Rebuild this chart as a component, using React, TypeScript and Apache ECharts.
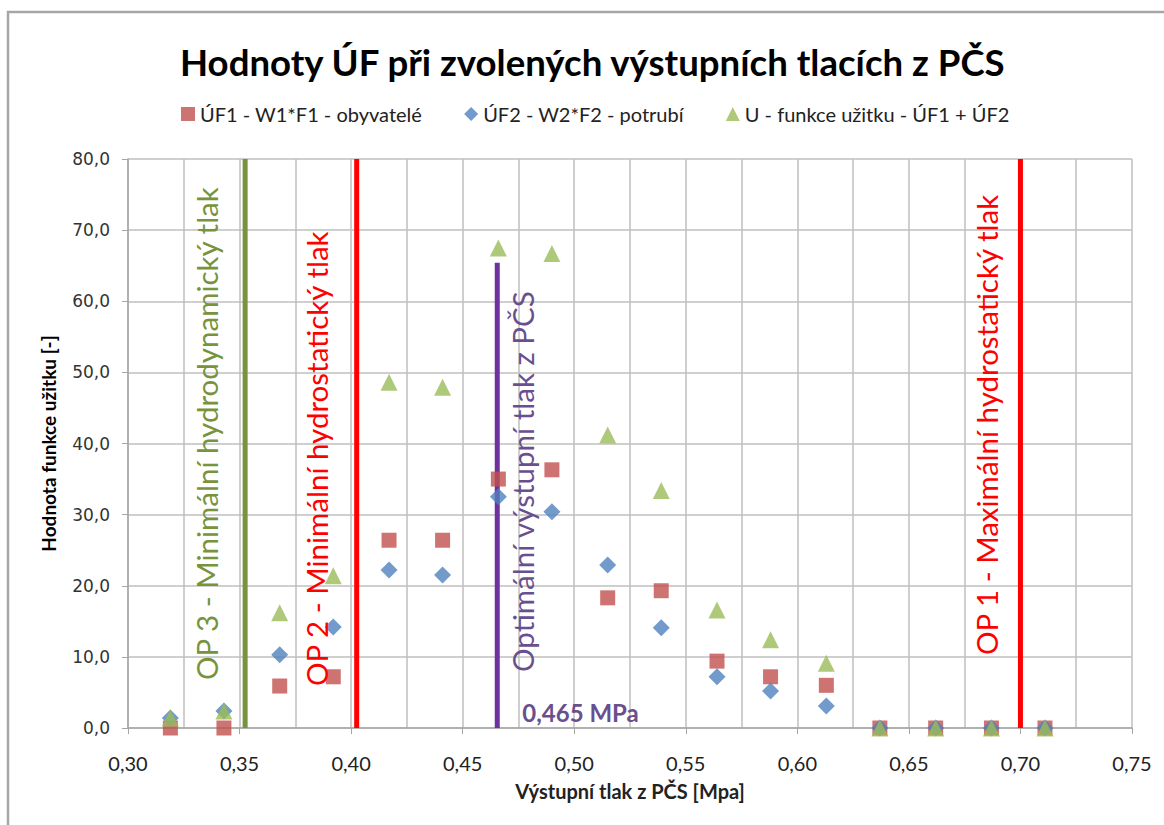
import React, { useEffect, useRef } from "react";
import * as echarts from "echarts";

// ---- data ----
const pressures = [0.319, 0.343, 0.368, 0.392, 0.417, 0.441, 0.466, 0.490, 0.515, 0.539, 0.564, 0.588, 0.613, 0.637, 0.662, 0.687, 0.711];
const uf1 = [0.0, 0.0, 5.9, 7.2, 26.4, 26.4, 35.0, 36.3, 18.3, 19.3, 9.4, 7.2, 6.0, 0.0, 0.0, 0.0, 0.0];
const uf2 = [1.4, 2.4, 10.3, 14.2, 22.2, 21.5, 32.5, 30.4, 22.9, 14.1, 7.2, 5.2, 3.1, 0.0, 0.0, 0.0, 0.0];
const uSum = [1.4, 2.4, 16.2, 21.4, 48.6, 47.9, 67.5, 66.7, 41.2, 33.4, 16.6, 12.4, 9.1, 0.0, 0.0, 0.0, 0.0];

const seriesNames = [
  "ÚF1 - W1*F1 - obyvatelé",
  "ÚF2 - W2*F2 - potrubí",
  "U - funkce užitku - ÚF1 + ÚF2",
];

const refLineX = [0.3525, 0.4025, 0.4655, 0.70];
const refLineTop = [80, 80, 65.4, 80];
const refLineLabels = [
  "OP 3 - Minimální hydrodynamický tlak",
  "OP 2 - Minimální hydrostatický tlak",
  "Optimální výstupní tlak z PČS",
  "OP 1 - Maximální hydrostatický tlak",
];
const optimumLabel = "0,465 MPa";

const titleText = "Hodnoty ÚF při zvolených výstupních tlacích z PČS";
const xAxisName = "Výstupní tlak z PČS [Mpa]";
const yAxisName = "Hodnota funkce užitku [-]";

// ---- styles ----
const seriesColors = ["#C0504D", "#4F81BD", "#9BBB59"];
const seriesSymbols = ["rect", "diamond", "triangle"];
const seriesSizes: any[] = [15, [17, 17], 17];
const refLineColors = ["#77933C", "#FF0000", "#7030A0", "#FF0000"];
const refTextColors = ["#77933C", "#FF0000", "#6A4F8E", "#FF0000"];
const refTextDx = [-39, -40, 25, -34];
const refTextDy = [-48, -42, -56, -73];
const FONT = "Lato, 'Open Sans', sans-serif";

export default function App() {
  const ref = useRef<HTMLDivElement>(null);

  useEffect(() => {
    document.body.style.margin = "0";
    if (!ref.current) return;
    const chart = echarts.init(ref.current, undefined, { renderer: "svg" });

    const values = [uf1, uf2, uSum];
    const scatter = seriesNames.map((name, i) => ({
      name,
      type: "scatter",
      symbol: seriesSymbols[i],
      symbolSize: seriesSizes[i],
      itemStyle: { color: seriesColors[i] },
      data: pressures.map((p, k) => [p, values[i][k]]),
      z: 5 + i,
    }));

    const refLines = refLineX.map((x, i) => ({
      name: refLineLabels[i],
      type: "line",
      data: [
        [x, 0],
        [x, refLineTop[i]],
      ],
      symbol: "none",
      lineStyle: { color: refLineColors[i], width: 5 },
      z: 2,
      silent: true,
    }));

    chart.setOption({
      animation: false,
      backgroundColor: "#fff",
      title: {
        text: titleText,
        left: 175,
        top: 38,
        textStyle: { fontFamily: FONT, fontSize: 36.6, fontWeight: "bold", color: "#000" },
      },
      legend: {
        data: seriesNames,
        top: 99,
        left: 176,
        itemGap: 42,
        itemWidth: 14,
        itemHeight: 14,
        textStyle: { fontFamily: FONT, fontSize: 20, color: "#222" },
      },
      grid: { left: 128, right: 32, top: 159, bottom: 97 },
      xAxis: {
        type: "value",
        min: 0.3,
        max: 0.75,
        interval: 0.05,
        name: xAxisName,
        nameLocation: "middle",
        nameGap: 53,
        nameTextStyle: { fontFamily: FONT, fontSize: 20, fontWeight: "bold", color: "#222" },
        axisLine: { show: true, onZero: false, lineStyle: { color: "#A6A6A6", width: 1.5 } },
        axisTick: { show: true, length: 6, lineStyle: { color: "#A6A6A6" } },
        axisLabel: {
          margin: 25,
          fontFamily: FONT,
          fontSize: 20,
          color: "#222",
          formatter: (v: number) => v.toFixed(2).replace(".", ","),
        },
        splitLine: { show: true, lineStyle: { color: "#BFBFBF", width: 1.5 } },
        minorTick: { show: false, splitNumber: 2 },
        minorSplitLine: { show: true, lineStyle: { color: "#BFBFBF", width: 1.5 } },
      },
      yAxis: {
        type: "value",
        min: 0,
        max: 80,
        interval: 10,
        name: yAxisName,
        nameLocation: "middle",
        nameGap: 70,
        nameTextStyle: { fontFamily: FONT, fontSize: 19, fontWeight: "bold", color: "#000" },
        axisLine: { show: true, lineStyle: { color: "#A6A6A6", width: 1.5 } },
        axisTick: { show: true, length: 6, lineStyle: { color: "#A6A6A6" } },
        axisLabel: {
          margin: 18,
          fontFamily: "'DejaVu Sans', Verdana, sans-serif",
          fontSize: 17,
          color: "#333",
          formatter: (v: number) => v.toFixed(1).replace(".", ","),
        },
        splitLine: { show: true, lineStyle: { color: "#BFBFBF", width: 1.5 } },
      },
      series: [...refLines, ...scatter],
    });

    // annotations anchored on the reference lines
    const graphics: any[] = [
      {
        type: "rect",
        shape: { x: 8, y: 12, width: 1300, height: 1000 },
        style: { fill: "none", stroke: "#A6A6A6", lineWidth: 2.5 },
        silent: true,
      },
    ];
    refLineX.forEach((x, i) => {
      const [px, py] = chart.convertToPixel({ gridIndex: 0 }, [x, 0]) as number[];
      graphics.push({
        type: "text",
        x: px + refTextDx[i],
        y: py + refTextDy[i],
        rotation: Math.PI / 2,
        style: {
          text: refLineLabels[i],
          fill: refTextColors[i],
          font: `29.5px ${FONT}`,
          align: "left",
          verticalAlign: "middle",
        },
        z: 10,
      });
    });
    {
      const [px, py] = chart.convertToPixel({ gridIndex: 0 }, [refLineX[2], 0]) as number[];
      graphics.push({
        type: "text",
        x: px + 25,
        y: py - 16,
        style: {
          text: optimumLabel,
          fill: refTextColors[2],
          font: `bold 24px ${FONT}`,
          align: "left",
          verticalAlign: "middle",
        },
        z: 10,
      });
    }
    chart.setOption({ graphic: graphics });

    return () => chart.dispose();
  }, []);

  return <div ref={ref} style={{ width: 1164, height: 825 }} />;
}
